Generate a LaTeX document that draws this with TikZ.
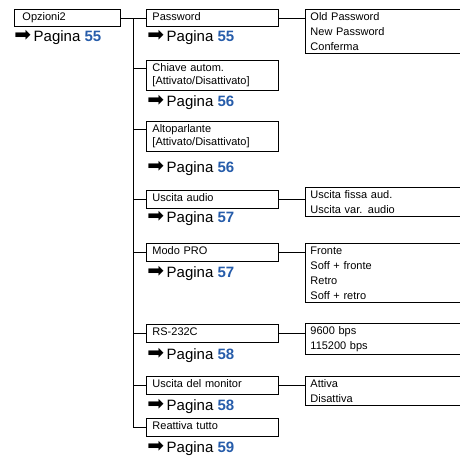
\documentclass[tikz,border=0pt]{standalone}
\usepackage{fontspec}
\setmainfont{Liberation Sans}
\newfontfamily\arrowfont{DejaVu Sans}
\usetikzlibrary{positioning}
\definecolor{pagblue}{RGB}{38,92,170}
\newcommand{\pagina}[1]{{\arrowfont\fontsize{20}{20}\selectfont\symbol{"27A1}}\,Pagina \textbf{\textcolor{pagblue}{#1}}}

\begin{document}
\begin{tikzpicture}[
      x=1pt, y=-1pt, line width=0.9pt,
      menu/.style={draw, anchor=north west, inner xsep=6pt, inner ysep=3.5pt, text width=120pt, align=left, font=\fontsize{11}{13}\selectfont},
      one/.style={menu, text height=8pt, text depth=2.5pt},
      opt/.style={draw, anchor=north west, inner xsep=5pt, inner ysep=3pt, text width=155pt, align=left, font=\fontsize{11}{15}\selectfont},
      pag/.style={anchor=west, inner sep=0pt, font=\fontsize{15}{15}\selectfont}]
    \useasboundingbox (0,0) rectangle (460,457);
    \clip (0,0) rectangle (460,457);
    % root
    \node[one, inner xsep=8pt, text width=90pt] (opz) at (14,9) {Opzioni2};
    \node[pag] (opzp) at (14,37) {\pagina{55}};
    % second level
    \node[one] (pw) at (146,9) {Password};
    \node[pag] (pwp) at (147,37) {\pagina{55}};
    \node[menu] (chiave) at (146,60) {Chiave autom.\\{}[Attivato/Disattivato]};
    \node[pag] (chiavep) at (147,102) {\pagina{56}};
    \node[menu] (alto) at (146,121) {Altoparlante\\{}[Attivato/Disattivato]};
    \node[pag] (altop) at (147,168) {\pagina{56}};
    \node[one] (usc) at (146,190) {Uscita audio};
    \node[pag] (uscp) at (147,218) {\pagina{57}};
    \node[one] (modo) at (146,243) {Modo PRO};
    \node[pag] (modop) at (147,273) {\pagina{57}};
    \node[one] (rs) at (146,324) {RS-232C};
    \node[pag] (rsp) at (147,355) {\pagina{58}};
    \node[one] (mon) at (146,376) {Uscita del monitor};
    \node[pag] (monp) at (147,406) {\pagina{58}};
    \node[one] (reset) at (146,418) {Reattiva tutto};
    \node[pag] (resetp) at (147,448) {\pagina{59}};
    % options
    \node[opt] (pwopt) at (305,9) {Old Password\\New Password\\Conferma};
    \node[opt] (uscopt) at (305,187) {Uscita fissa aud.\\Uscita var. audio};
    \node[opt] (modoopt) at (305,243) {Fronte\\Soff + fronte\\Retro\\Soff + retro};
    \node[opt] (rsopt) at (305,323) {9600 bps\\115200 bps};
    \node[opt] (monopt) at (305,376) {Attiva\\Disattiva};
    % tree lines
    \coordinate (spine) at (133,0);
    \coordinate (chiave-in) at ([yshift=-8pt]chiave.north west);
    \coordinate (alto-in) at ([yshift=-8pt]alto.north west);
    \draw (opz.east) -- (pw.west);
    \draw (spine |- opz.east) |- (reset.west);
    \draw (spine |- chiave-in) -- (chiave-in);
    \draw (spine |- alto-in) -- (alto-in);
    \draw (spine |- usc.west) -- (usc.west);
    \draw (spine |- modo.west) -- (modo.west);
    \draw (spine |- rs.west) -- (rs.west);
    \draw (spine |- mon.west) -- (mon.west);
    \draw (pw.east) -- (pw.east -| pwopt.west);
    \draw (usc.east) -- (usc.east -| uscopt.west);
    \draw (modo.east) -- (modo.east -| modoopt.west);
    \draw (rs.east) -- (rs.east -| rsopt.west);
    \draw (mon.east) -- (mon.east -| monopt.west);
  \end{tikzpicture}
\end{document}
